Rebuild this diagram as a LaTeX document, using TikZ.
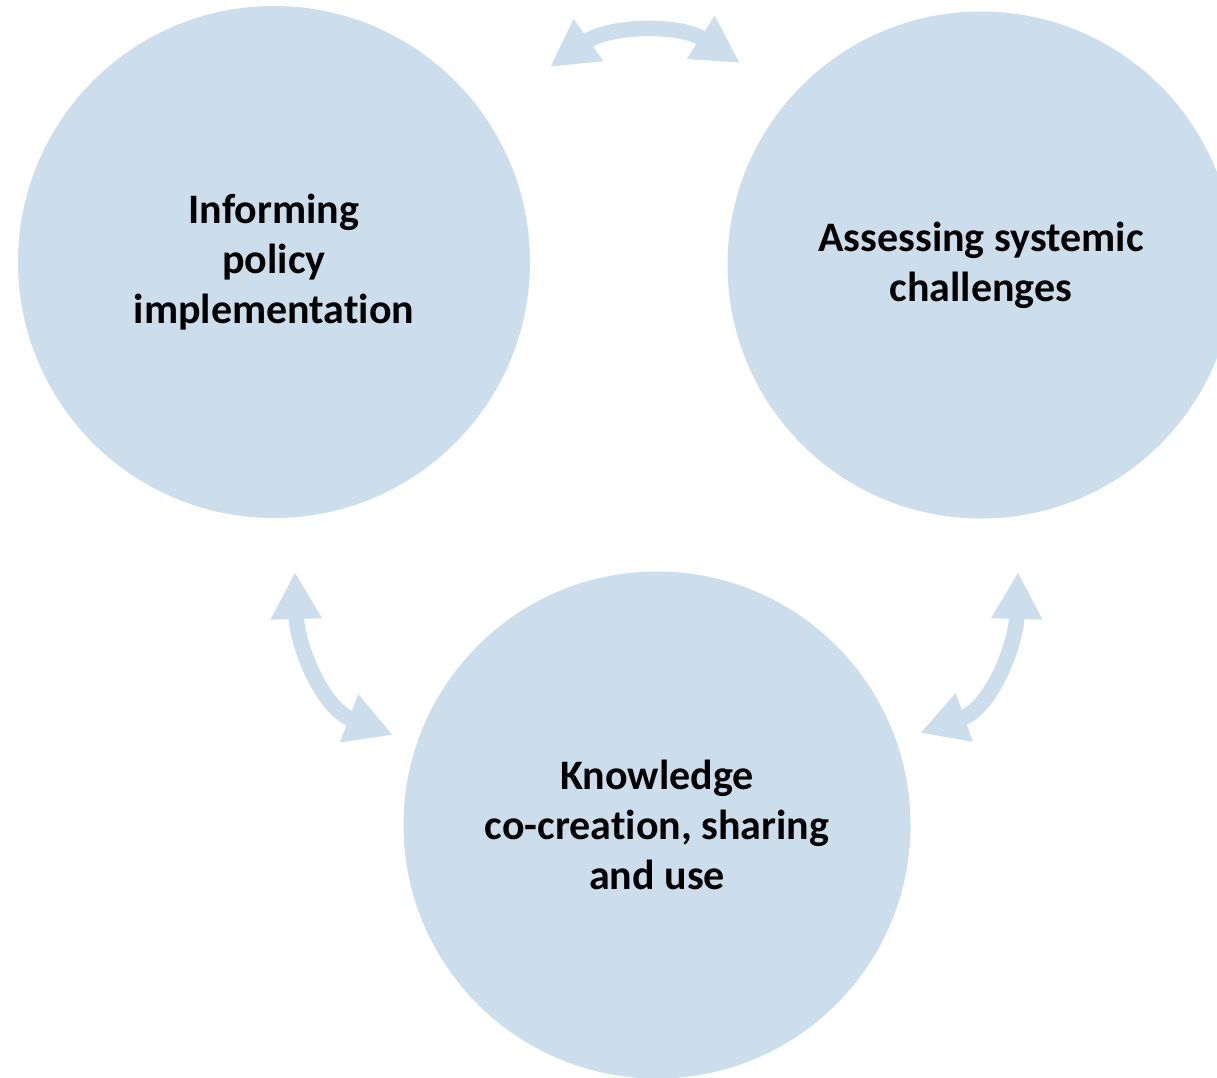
\documentclass[tikz,border=0pt]{standalone}
\usepackage{fontspec}
\setmainfont{Carlito}[Ligatures=NoCommon]
\usetikzlibrary{arrows.meta}
\definecolor{paleblue}{RGB}{204,222,235}

\begin{document}
\begin{tikzpicture}[x=1pt,y=-1pt,
    bubble/.style={circle,fill=paleblue,inner sep=0pt,align=center,
        font=\fontsize{42}{50}\selectfont\bfseries},
    link/.style={paleblue,line width=15.5pt,
        {Triangle[width=48pt,length=47pt]}-{Triangle[width=48pt,length=47pt]}}]
    % Fix the page size
    \useasboundingbox (0,0) rectangle (1217,1077);
    \clip (0,0) rectangle (1217,1077);

    % Draw the three circles
    \node[bubble,minimum size=512pt] (inform) at (274,262) {Informing\\policy\\implementation};
    \node[bubble,minimum size=507pt] (assess) at (981,265) {Assessing systemic\\challenges};
    \node[bubble,minimum size=507pt] (know) at (657,825) {Knowledge\\co-creation, sharing\\and use};

    % Free ends of the arrows
    \coordinate (topL) at (550,67);
    \coordinate (topR) at (740,63);
    \coordinate (leftT) at (295,572);
    \coordinate (leftB) at (393,735);
    \coordinate (rightT) at (1018,572);
    \coordinate (rightB) at (920,733);

    % Draw the curved two-way arrows
    \draw[link] (topL) .. controls (610,25) and (680,24) .. (topR);
    \draw[link] (leftT) .. controls (297,645) and (322,708) .. (leftB);
    \draw[link] (rightT) .. controls (1016,645) and (991,708) .. (rightB);
\end{tikzpicture}
\end{document}
